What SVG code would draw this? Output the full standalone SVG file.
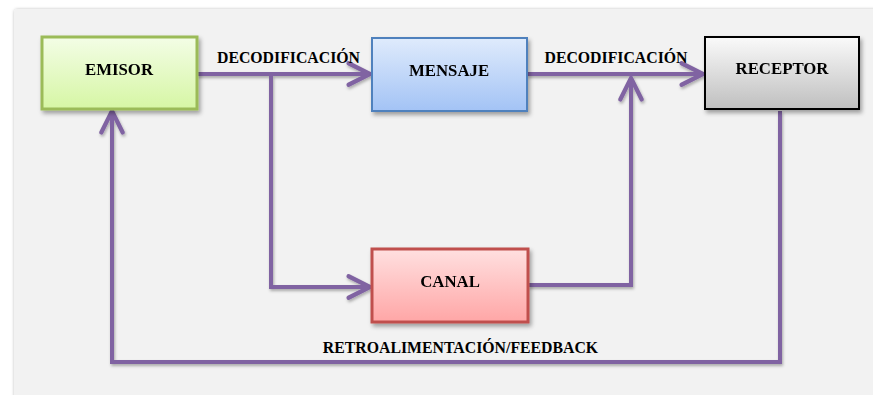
<svg xmlns="http://www.w3.org/2000/svg" width="873" height="395" viewBox="0 0 873 395">
<defs>
<style>
.lbl{font-family:"Liberation Serif","Times New Roman",serif;font-weight:bold;fill:#000;}
.node{font-size:16.8px;}
.edge{font-size:15.8px;}
.conn{fill:none;stroke:#8064a2;stroke-width:4;stroke-linejoin:miter;}
</style>
<linearGradient id="gGreen" x1="0" y1="0" x2="0" y2="1"><stop offset="0" stop-color="#f3fde6"/><stop offset="1" stop-color="#d6f6a4"/></linearGradient>
<linearGradient id="gBlue" x1="0" y1="0" x2="0" y2="1"><stop offset="0" stop-color="#dfebfc"/><stop offset="1" stop-color="#a3c3f5"/></linearGradient>
<linearGradient id="gGray" x1="0" y1="0" x2="0" y2="1"><stop offset="0" stop-color="#fafafa"/><stop offset="1" stop-color="#bfbfbf"/></linearGradient>
<linearGradient id="gRed" x1="0" y1="0" x2="0" y2="1"><stop offset="0" stop-color="#ffe0e0"/><stop offset="1" stop-color="#ffa6a6"/></linearGradient>
<filter id="sh" x="-10%" y="-10%" width="130%" height="140%"><feDropShadow dx="2" dy="3" stdDeviation="2" flood-color="#000" flood-opacity="0.35"/></filter>
<filter id="shl" x="-5%" y="-5%" width="110%" height="110%"><feDropShadow dx="1" dy="2" stdDeviation="1.5" flood-color="#000" flood-opacity="0.3"/></filter>
<filter id="panelSh" x="-5%" y="-5%" width="110%" height="110%"><feDropShadow dx="0" dy="0" stdDeviation="1.5" flood-color="#000" flood-opacity="0.25"/></filter>
<marker id="arr" markerUnits="userSpaceOnUse" markerWidth="30" markerHeight="30" refX="0" refY="0" viewBox="-24 -14 28 28" orient="auto" overflow="visible">
<path d="M-20,-10 L0,0 L-20,10" fill="none" stroke="#8064a2" stroke-width="4" stroke-linecap="round" stroke-linejoin="miter"/>
</marker>
</defs>
<rect x="0" y="0" width="873" height="395" fill="#ffffff"/>
<rect id="panel" x="14" y="9" width="875" height="400" rx="4" fill="#f2f2f2" filter="url(#panelSh)"/>

<g id="connectors" filter="url(#shl)">
<path class="conn" d="M197,74 L370,74" marker-end="url(#arr)"/>
<path class="conn" d="M527,74 L703,74" marker-end="url(#arr)"/>
<path class="conn" d="M271,76 L271,287 L370,287" marker-end="url(#arr)"/>
<path class="conn" d="M528,285 L631,285 L631,78" marker-end="url(#arr)"/>
<path class="conn" d="M780,111 L780,362 L112,362 L112,111" marker-end="url(#arr)"/>
</g>

<g id="emisor" filter="url(#sh)">
<rect x="42" y="37" width="155" height="72" fill="url(#gGreen)" stroke="#9bbb59" stroke-width="3"/>
<text class="lbl node" x="119" y="75" text-anchor="middle">EMISOR</text>
</g>
<g id="mensaje" filter="url(#sh)">
<rect x="372" y="38" width="155" height="73" fill="url(#gBlue)" stroke="#4f81bd" stroke-width="2"/>
<text class="lbl node" x="449" y="76" text-anchor="middle">MENSAJE</text>
</g>
<g id="receptor" filter="url(#sh)">
<rect x="705" y="37" width="154" height="72" fill="url(#gGray)" stroke="#000000" stroke-width="2"/>
<text class="lbl node" x="782" y="74" text-anchor="middle">RECEPTOR</text>
</g>
<g id="canal" filter="url(#sh)">
<rect x="372" y="249" width="156" height="73" fill="url(#gRed)" stroke="#c0504d" stroke-width="3"/>
<text class="lbl node" x="450" y="287" text-anchor="middle">CANAL</text>
</g>

<g id="labels">
<text class="lbl edge" x="288.5" y="63" text-anchor="middle">DECODIFICACIÓN</text>
<text class="lbl edge" x="616" y="63" text-anchor="middle">DECODIFICACIÓN</text>
<text class="lbl edge" x="460.5" y="353" text-anchor="middle">RETROALIMENTACIÓN/FEEDBACK</text>
</g>
</svg>
